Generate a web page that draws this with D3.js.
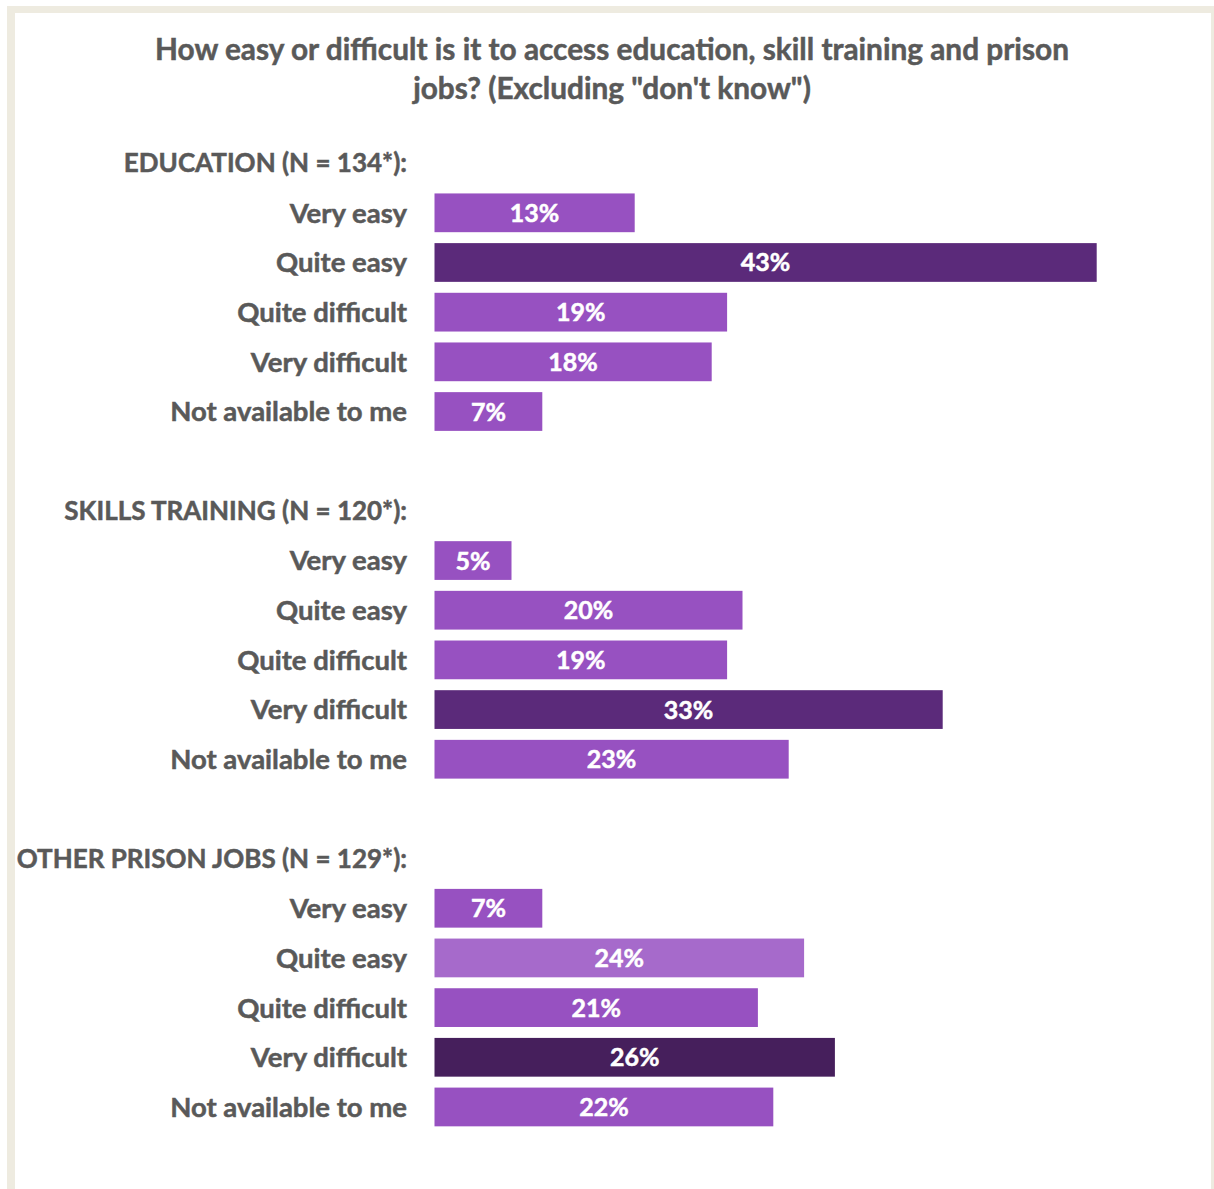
<!DOCTYPE html>
<html>
<head>
<meta charset="utf-8">
<script src="https://cdn.jsdelivr.net/npm/d3@7"></script>
<style>
  html, body { margin: 0; padding: 0; background: #ffffff; }
  svg { display: block; }
  text { font-family: Lato, "Open Sans", sans-serif; font-weight: 700; }
</style>
</head>
<body>
<svg id="chart" width="1214" height="1189"></svg>
<script>
// Survey question and response data
const titleLines = [
  "How easy or difficult is it to access education, skill training and prison",
  "jobs? (Excluding \"don't know\")"
];
const groups = ["EDUCATION (N = 134*):", "SKILLS TRAINING (N = 120*):", "OTHER PRISON JOBS (N = 129*):"];
const categories = ["Very easy", "Quite easy", "Quite difficult", "Very difficult", "Not available to me"];
const educationValues = [13, 43, 19, 18, 7];
const skillsValues = [5, 20, 19, 33, 23];
const jobsValues = [7, 24, 21, 26, 22];
const groupValues = [educationValues, skillsValues, jobsValues];

// Fill per bar (one row per group)
const MID = "#9751c1", DARK = "#5b2a7a", DARKEST = "#461f5c", LIGHT = "#a66acb";
const fills = [
  [MID, DARK, MID, MID, MID],
  [MID, MID, MID, DARK, MID],
  [MID, LIGHT, MID, DARKEST, MID]
];

const svg = d3.select("#chart");
const W = 1214, H = 1189;
const textColor = "#595959";

// Frame
svg.append("rect").attr("x", 7).attr("y", 6).attr("width", W - 7).attr("height", H - 6).attr("fill", "#eeebe0");
svg.append("rect").attr("x", 15).attr("y", 13).attr("width", 1211 - 15).attr("height", H - 13).attr("fill", "#ffffff");

// Title
svg.append("g").selectAll("text").data(titleLines).join("text")
  .attr("x", 612)
  .attr("y", (d, i) => 60 + i * 39)
  .attr("text-anchor", "middle")
  .attr("fill", textColor)
  .attr("stroke", textColor)
  .attr("stroke-width", 0.5)
  .attr("font-size", 29.8)
  .text(d => d);

// Rows: each group has a header row, five bar rows and a spacer row
const rows = [];
groups.forEach((g, gi) => {
  rows.push({ key: `h${gi}`, type: "header", label: g });
  categories.forEach((c, ci) => {
    rows.push({ key: `b${gi}-${ci}`, type: "bar", label: c, value: groupValues[gi][ci], fill: fills[gi][ci] });
  });
  if (gi < groups.length - 1) rows.push({ key: `s${gi}`, type: "spacer" });
});

const y = d3.scaleBand()
  .domain(rows.map(r => r.key))
  .range([138.3, 1131.8])
  .paddingInner(0.22)
  .paddingOuter(0.11);

const x = d3.scaleLinear().domain([0, 100]).range([434.5, 434.5 + 1540]);

const labelX = 407;

// Group headers and category labels
svg.append("g").selectAll("text").data(rows.filter(r => r.type !== "spacer")).join("text")
  .attr("x", labelX)
  .attr("y", r => y(r.key) + y.bandwidth() / 2)
  .attr("dy", "0.36em")
  .attr("text-anchor", "end")
  .attr("fill", textColor)
  .attr("stroke", textColor)
  .attr("stroke-width", 0.5)
  .attr("font-size", r => r.type === "header" ? 26 : 27.5)
  .text(r => r.label);

const bars = rows.filter(r => r.type === "bar");

svg.append("g").selectAll("rect").data(bars).join("rect")
  .attr("x", x(0))
  .attr("y", r => y(r.key))
  .attr("width", r => x(r.value) - x(0))
  .attr("height", y.bandwidth())
  .attr("fill", r => r.fill);

svg.append("g").selectAll("text").data(bars).join("text")
  .attr("x", r => (x(0) + x(r.value)) / 2)
  .attr("y", r => y(r.key) + y.bandwidth() / 2)
  .attr("dy", "0.36em")
  .attr("text-anchor", "middle")
  .attr("fill", "#ffffff")
  .attr("stroke", "#ffffff")
  .attr("stroke-width", 0.5)
  .attr("font-size", 25)
  .text(r => `${r.value}%`);
</script>
</body>
</html>
